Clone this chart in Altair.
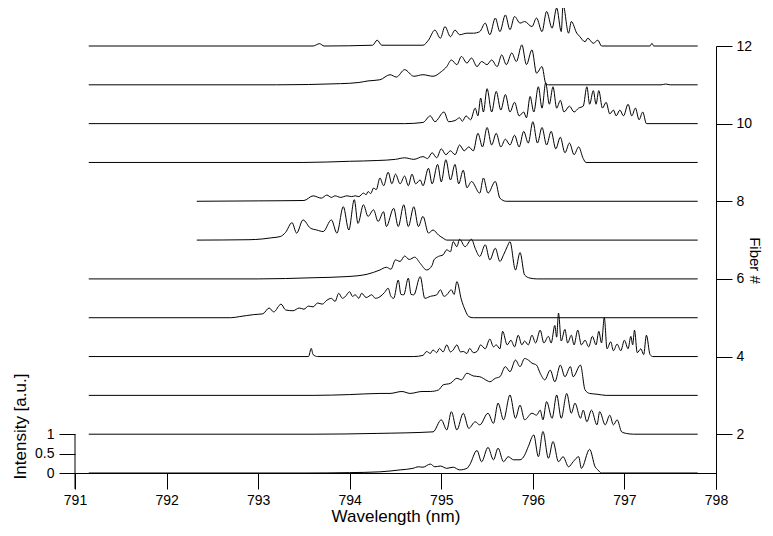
import altair as alt
import pandas as pd

# ---- spectra: (wavelength nm, intensity a.u.) per fiber ----
f1 = [(791.15,0),(793.5,0),(794.0,0.01),(794.33,0.03),(794.55,0.08),(794.69,0.12),(794.75,0.16),(794.80,0.15),
      (794.88,0.23),(794.93,0.16),(794.99,0.18),(795.06,0.12),(795.13,0.15),(795.20,0.08),(795.28,0.12),(795.31,0.21),
      (795.39,0.58),(795.44,0.29),(795.51,0.66),(795.57,0.34),(795.62,0.64),(795.68,0.29),(795.73,0.42),(795.79,0.34),
      (795.86,0.34),(795.91,0.46),(795.95,0.68),(796.01,0.98),(796.06,0.42),(796.11,1.07),(796.17,0.38),(796.22,0.81),
      (796.28,0.29),(796.33,0.42),(796.39,0.16),(796.44,0.29),(796.50,0.42),(796.53,0.12),(796.62,0.61),(796.68,0.16),
      (796.71,0.08),(796.75,0),(797.8,0)]
f2 = [(791.15,0),(793.6,0),(794.3,0.02),(794.91,0.06),(795.0,0.37),(795.06,0.11),(795.11,0.58),(795.17,0.11),
      (795.24,0.54),(795.30,0.15),(795.37,0.32),(795.42,0.24),(795.51,0.54),(795.57,0.28),(795.62,0.8),(795.68,0.37),
      (795.75,1.01),(795.81,0.41),(795.86,0.75),(795.91,0.37),(795.99,0.54),(796.04,0.49),(796.08,0.62),(796.11,0.37),
      (796.15,0.84),(796.21,0.41),(796.26,1.01),(796.31,0.41),(796.37,1.05),(796.42,0.54),(796.46,0.8),(796.52,0.41),
      (796.55,0.62),(796.59,0.32),(796.64,0.62),(796.70,0.24),(796.73,0.58),(796.79,0.24),(796.84,0.49),(796.88,0.24),
      (796.92,0.37),(796.97,0.06),(797.02,0.02),(797.1,0),(797.8,0)]
f3 = [(791.15,0),(793.6,0),(794.0,0.02),(794.33,0.05),(794.44,0.05),(794.57,0.1),(794.66,0.05),(794.79,0.1),
      (794.88,0.1),(794.97,0.14),(795.02,0.27),(795.10,0.31),(795.17,0.44),(795.22,0.4),(795.28,0.57),(795.35,0.5),
      (795.42,0.48),(795.50,0.38),(795.53,0.35),(795.59,0.44),(795.64,0.48),(795.70,0.74),(795.75,0.61),(795.81,0.91),
      (795.86,0.74),(795.91,0.95),(795.95,0.91),(795.99,0.83),(796.04,0.78),(796.08,0.57),(796.13,0.4),(796.19,0.65),
      (796.24,0.35),(796.30,0.78),(796.35,0.48),(796.41,0.74),(796.44,0.48),(796.52,0.78),(796.57,0.14),(796.62,0.05),
      (796.70,0.03),(796.8,0),(797.8,0)]
f4 = [(791.15,0),(793.55,0),(793.58,0.21),(793.6,0.05),(793.65,0),(794.7,0),(794.8,0.03),(794.84,0.13),(794.88,0.08),
      (794.91,0.17),(794.95,0.1),(794.98,0.21),(795.02,0.12),(795.06,0.3),(795.1,0.12),(795.13,0.17),(795.17,0.3),
      (795.21,0.12),(795.24,0.13),(795.28,0.08),(795.31,0.21),(795.35,0.1),(795.39,0.13),(795.43,0.3),(795.48,0.2),
      (795.53,0.45),(795.57,0.25),(795.6,0.3),(795.64,0.2),(795.67,0.65),(795.72,0.3),(795.76,0.42),(795.8,0.25),
      (795.84,0.55),(795.88,0.3),(795.91,0.4),(795.95,0.3),(795.99,0.55),(796.03,0.35),(796.08,0.68),(796.12,0.35),
      (796.17,0.52),(796.2,0.35),(796.24,0.8),(796.26,0.5),(796.28,1.12),(796.31,0.4),(796.35,0.7),(796.38,0.35),
      (796.42,0.55),(796.45,0.3),(796.49,0.68),(796.53,0.3),(796.57,0.42),(796.61,0.25),(796.65,0.52),(796.69,0.3),
      (796.72,0.65),(796.75,0.35),(796.78,1.0),(796.81,0.2),(796.85,0.38),(796.88,0.15),(796.92,0.32),(796.96,0.15),
      (797.0,0.42),(797.04,0.2),(797.07,0.52),(797.09,0.3),(797.11,0.68),(797.14,0.1),(797.18,0.2),(797.21,0.05),
      (797.24,0.55),(797.28,0.05),(797.31,0),(797.8,0)]
f5 = [(791.15,0),(792.7,0),(792.8,0.03),(792.95,0.08),(793.05,0.1),(793.12,0.25),(793.17,0.15),(793.25,0.35),
      (793.3,0.2),(793.38,0.18),(793.45,0.25),(793.5,0.22),(793.55,0.3),(793.6,0.28),(793.65,0.38),(793.7,0.35),
      (793.75,0.45),(793.8,0.5),(793.84,0.42),(793.88,0.63),(793.92,0.5),(793.95,0.54),(794.0,0.67),(794.03,0.55),
      (794.06,0.59),(794.1,0.5),(794.13,0.63),(794.18,0.52),(794.24,0.59),(794.28,0.5),(794.33,0.54),(794.38,0.65),
      (794.42,0.76),(794.45,0.55),(794.48,0.5),(794.53,0.97),(794.56,0.6),(794.59,0.59),(794.64,1.02),(794.67,0.6),
      (794.7,0.59),(794.77,1.06),(794.82,0.5),(794.88,0.55),(794.95,0.59),(794.99,0.72),(795.03,0.55),(795.06,0.59),
      (795.11,0.72),(795.14,0.6),(795.17,0.93),(795.22,0.46),(795.26,0.2),(795.3,0.03),(795.35,0),(797.8,0)]
f6 = [(791.15,0),(793.0,0),(793.6,0.03),(793.97,0.06),(794.19,0.12),(794.33,0.23),(794.4,0.3),(794.45,0.25),
      (794.5,0.49),(794.55,0.45),(794.6,0.59),(794.65,0.5),(794.71,0.56),(794.77,0.4),(794.84,0.23),(794.9,0.35),
      (794.92,0.49),(794.97,0.58),(795.02,0.62),(795.06,0.75),(795.1,0.7),(795.13,0.96),(795.17,0.83),(795.2,1.02),
      (795.26,0.83),(795.33,1.02),(795.37,0.79),(795.42,0.58),(795.48,0.88),(795.53,0.49),(795.59,0.79),(795.64,0.45),
      (795.68,0.62),(795.72,0.83),(795.75,0.96),(795.81,0.23),(795.86,0.68),(795.91,0.1),(795.97,0.02),(796.05,0),
      (797.8,0)]
f7 = [(792.33,0),(792.9,0.01),(793.05,0.03),(793.15,0.06),(793.24,0.09),(793.3,0.2),(793.37,0.45),(793.42,0.18),
      (793.49,0.52),(793.57,0.31),(793.64,0.26),(793.71,0.22),(793.80,0.52),(793.86,0.18),(793.93,0.86),(793.99,0.26),
      (794.05,1.04),(794.09,0.43),(794.15,0.91),(794.2,0.61),(794.26,0.78),(794.31,0.48),(794.37,0.73),(794.4,0.35),
      (794.48,0.82),(794.53,0.35),(794.59,0.91),(794.64,0.35),(794.70,0.86),(794.75,0.35),(794.80,0.61),(794.86,0.18),
      (794.91,0.26),(794.97,0.13),(795.02,0.05),(795.06,0),(797.8,0)]
f8 = [(792.33,0),(793.0,0.01),(793.5,0.02),(793.6,0.14),(793.69,0.08),(793.75,0.16),(793.8,0.1),(793.84,0.14),
      (793.9,0.1),(793.97,0.14),(794.02,0.12),(794.06,0.14),(794.1,0.12),(794.15,0.21),(794.18,0.17),(794.2,0.25),
      (794.23,0.2),(794.26,0.34),(794.29,0.3),(794.33,0.6),(794.37,0.4),(794.42,0.75),(794.46,0.45),(794.5,0.7),
      (794.55,0.45),(794.6,0.65),(794.64,0.4),(794.68,0.7),(794.72,0.45),(794.77,0.55),(794.8,0.4),(794.86,0.85),
      (794.9,0.45),(794.96,0.95),(795.0,0.5),(795.05,1.07),(795.1,0.55),(795.15,0.95),(795.19,0.45),(795.24,0.8),
      (795.28,0.35),(795.33,0.51),(795.42,0.21),(795.46,0.6),(795.51,0.21),(795.59,0.51),(795.64,0.08),(795.71,0),
      (797.8,0)]
f9 = [(791.15,0),(793.5,0),(794.0,0.03),(794.3,0.05),(794.5,0.08),(794.6,0.12),(794.7,0.08),(794.8,0.15),(794.85,0.1),
      (794.9,0.25),(794.95,0.12),(795.0,0.35),(795.05,0.2),(795.1,0.3),(795.15,0.2),(795.2,0.45),(795.25,0.3),
      (795.3,0.4),(795.35,0.3),(795.4,0.75),(795.45,0.4),(795.5,0.9),(795.55,0.45),(795.6,0.75),(795.65,0.4),
      (795.7,0.6),(795.75,0.45),(795.8,0.7),(795.85,0.4),(795.9,0.8),(795.95,0.5),(796.0,1.05),(796.05,0.5),
      (796.1,0.9),(796.15,0.45),(796.2,0.8),(796.25,0.35),(796.3,0.65),(796.35,0.25),(796.4,0.5),(796.45,0.2),
      (796.5,0.4),(796.55,0.1),(796.58,0),(797.8,0)]
f10 = [(791.15,0),(794.6,0),(794.8,0.03),(794.88,0.2),(794.93,0.05),(795.03,0.3),(795.08,0.05),(795.15,0.08),
       (795.2,0.15),(795.23,0.06),(795.27,0.2),(795.32,0.1),(795.37,0.4),(795.4,0.2),(795.43,0.66),(795.46,0.3),
       (795.5,0.9),(795.55,0.3),(795.6,0.83),(795.65,0.35),(795.7,0.75),(795.75,0.3),(795.8,0.55),(795.85,0.2),
       (795.9,0.3),(795.93,0.15),(795.97,0.7),(796.01,0.3),(796.06,0.95),(796.1,0.4),(796.14,1.05),(796.18,0.5),
       (796.22,0.95),(796.26,0.4),(796.3,0.6),(796.34,0.3),(796.4,0.45),(796.45,0.3),(796.5,0.4),(796.55,0.45),
       (796.59,0.95),(796.62,0.5),(796.66,0.85),(796.69,0.5),(796.72,0.85),(796.76,0.4),(796.8,0.55),(796.84,0.25),
       (796.88,0.35),(796.91,0.2),(796.95,0.35),(796.99,0.2),(797.04,0.5),(797.08,0.2),(797.12,0.4),(797.16,0.1),
       (797.2,0.3),(797.24,0),(797.8,0)]
f11 = [(791.15,0),(793.2,0),(793.9,0.03),(794.1,0.06),(794.2,0.1),(794.33,0.13),(794.44,0.26),(794.51,0.2),
       (794.60,0.39),(794.70,0.22),(794.80,0.26),(794.91,0.22),(795.0,0.34),(795.06,0.47),(795.11,0.64),(795.17,0.52),
       (795.22,0.73),(795.28,0.56),(795.33,0.69),(795.39,0.47),(795.44,0.6),(795.50,0.52),(795.55,0.64),(795.61,0.47),
       (795.66,0.77),(795.71,0.52),(795.77,0.82),(795.82,0.6),(795.88,1.03),(795.93,0.52),(795.99,0.9),(796.04,0.3),
       (796.10,0.47),(796.14,0.04),(796.17,0),(797.4,0),(797.45,0.02),(797.5,0),(797.8,0)]
f12 = [(791.15,0),(793.6,0),(793.67,0.06),(793.72,0),(794.25,0.02),(794.30,0.15),(794.35,0.02),(794.80,0.02),
       (794.86,0.15),(794.93,0.41),(794.99,0.2),(795.04,0.5),(795.10,0.24),(795.15,0.41),(795.20,0.29),(795.28,0.33),
       (795.35,0.33),(795.42,0.37),(795.48,0.59),(795.53,0.29),(795.59,0.72),(795.64,0.37),(795.70,0.80),(795.75,0.42),
       (795.80,0.76),(795.86,0.59),(795.91,0.63),(795.99,0.50),(796.04,0.72),(796.10,0.37),(796.15,0.89),(796.21,0.46),
       (796.26,0.98),(796.31,0.37),(796.33,1.06),(796.39,0.33),(796.42,0.63),(796.48,0.33),(796.51,0.25),(796.57,0.11),
       (796.60,0.2),(796.66,0.07),(796.71,0.15),(796.75,0),(797.28,0),(797.30,0.07),(797.32,0),(797.8,0)]

spectra = [f1, f2, f3, f4, f5, f6, f7, f8, f9, f10, f11, f12]
wavelength_ticks = [791, 792, 793, 794, 795, 796, 797, 798]
fiber_ticks = [2, 4, 6, 8, 10, 12]
intensity_ticks = [0, 0.5, 1]

rows = []
for k, pts in enumerate(spectra, start=1):
    for i, (w, v) in enumerate(pts):
        rows.append({"fiber": k, "nm": w, "intensity": v, "y": k + v, "idx": i})
df = pd.DataFrame(rows)

FONT = "Liberation Sans"
xs = alt.Scale(domain=[791, 798], nice=False, zero=False)
ys = alt.Scale(domain=[0.588, 12], nice=False, zero=False)

x_axis = alt.Axis(orient="bottom", values=wavelength_ticks, format="d", title="Wavelength (nm)",
                  offset=-16, tickSize=16, labelPadding=4, titlePadding=1,
                  labelFlush=False, labelOverlap=False)

lines = alt.Chart(df).mark_line(color="black", strokeWidth=1, interpolate="monotone", clip=False).encode(
    x=alt.X("nm:Q", scale=xs, axis=x_axis),
    y=alt.Y("y:Q", scale=ys, axis=alt.Axis(orient="left", values=[t + 1 for t in intensity_ticks],
                                           labelExpr="datum.value == 1 ? '0' : datum.value == 1.5 ? '0.5' : '1'",
                                           tickSize=16, labelPadding=5, domain=False,
                                           title="Intensity [a.u.]", titleX=-46, titleY=380,
                                           titleAngle=-90, titleBaseline="bottom", titleAlign="center")),
    detail="fiber:N",
    order="idx:Q",
)

left_line = alt.Chart(pd.DataFrame({"nm": [791], "y": [0.588], "y2": [2]})).mark_rule(
    color="black", strokeWidth=1).encode(
    x=alt.X("nm:Q", scale=xs, axis=x_axis),
    y=alt.Y("y:Q", scale=ys, axis=None),
    y2="y2:Q",
)

right_axis = alt.Chart(pd.DataFrame({"f": fiber_ticks, "nm": [798] * len(fiber_ticks)})).mark_point(opacity=0).encode(
    x=alt.X("nm:Q", scale=xs, axis=x_axis),
    y=alt.Y("f:Q", scale=ys, axis=alt.Axis(orient="right", values=fiber_ticks, format="d", title="Fiber #",
                                           tickSize=16, labelPadding=4, titleFontSize=15,
                                           titleX=30, titleY=214, titleAngle=90,
                                           titleBaseline="bottom", titleAlign="center")),
)

chart = alt.layer(lines, left_line, right_axis).resolve_scale(y="independent").properties(
    width=641, height=443,
    autosize=alt.AutoSizeParams(type="none"),
    padding={"left": 67, "top": 38, "right": 49, "bottom": 39},
).configure_view(stroke=None).configure_axis(
    grid=False, domainColor="black", tickColor="black", labelColor="black", titleColor="black",
    domainWidth=1, tickWidth=1, labelFont=FONT, titleFont=FONT, labelFontSize=14, titleFontSize=17,
    titleFontWeight="normal",
)

chart.save("out.html", embed_options={"renderer": "svg", "actions": False})
